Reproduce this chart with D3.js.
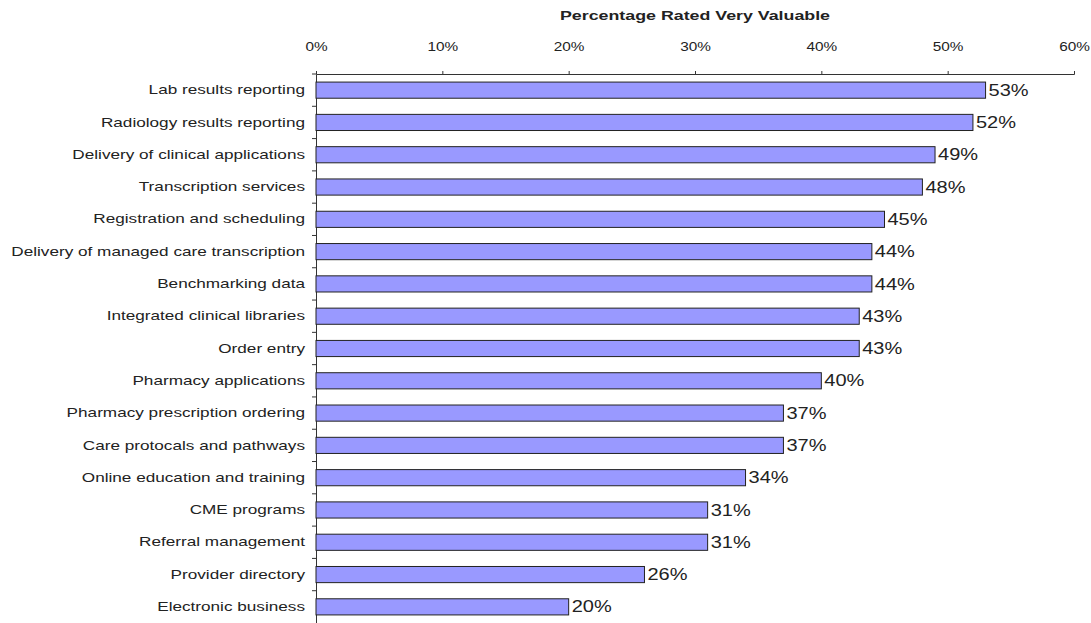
<!DOCTYPE html>
<html><head><meta charset="utf-8">
<script src="https://cdn.jsdelivr.net/npm/d3@7"></script>
<style>body{margin:0;background:#fff}svg{display:block}</style>
</head><body><svg id="c" width="1091" height="623"></svg>
<script>
const categories = ["Lab results reporting","Radiology results reporting","Delivery of clinical applications","Transcription services","Registration and scheduling","Delivery of managed care transcription","Benchmarking data","Integrated clinical libraries","Order entry","Pharmacy applications","Pharmacy prescription ordering","Care protocals and pathways","Online education and training","CME programs","Referral management","Provider directory","Electronic business"];
const values = [53,52,49,48,45,44,44,43,43,40,37,37,34,31,31,26,20];
const tickValues = [0,10,20,30,40,50,60];
const title = "Percentage Rated Very Valuable";

const FONT = "Liberation Sans, Arial, sans-serif";
const svg = d3.select("#c");
const mLeft = 316, mRight = 1074, mTop = 74, mBottom = 623;
const x = d3.scaleLinear().domain([0,60]).range([mLeft,mRight]);
const y = d3.scaleBand().domain(categories).range([mTop,mBottom]).paddingInner(0.5).paddingOuter(0.25);

// horizontal stretch of text (the reference image is wide-set)
function stretch(sel, sx){
  sel.each(function(){
    const t = d3.select(this);
    const xx = +t.attr("x") || 0, yy = +t.attr("y") || 0;
    t.attr("x",0).attr("y",0).attr("transform",`translate(${xx},${yy}) scale(${sx},1)`);
  });
}

const tt = svg.append("text").attr("x",(mLeft+mRight)/2).attr("y",20).attr("text-anchor","middle")
  .attr("font-family",FONT).attr("font-size",13).attr("font-weight","bold")
  .attr("fill","#222").text(title);
stretch(tt, 1.37);

const xa = svg.append("g").attr("transform",`translate(0,${mTop})`)
  .call(d3.axisTop(x).tickValues(tickValues).tickFormat(d=>d+"%").tickSize(3).tickPadding(20));
xa.selectAll("text").attr("font-family",FONT).attr("font-size",12).attr("fill","#222");
stretch(xa.selectAll("text"), 1.28);
xa.selectAll("path,line").attr("stroke","#333");

const yb = d3.scaleBand().domain(categories).range([mTop,mBottom]);
const ya = svg.append("g").attr("transform",`translate(${mLeft},0)`)
  .call(d3.axisLeft(yb).tickSize(0).tickPadding(11));
ya.select("path").attr("stroke","#333");
ya.selectAll("text").attr("font-family",FONT).attr("font-size",13).attr("fill","#222");
stretch(ya.selectAll("text"), 1.32);
svg.append("g").selectAll("line").data(categories).join("line")
  .attr("x1",mLeft-4).attr("x2",mLeft).attr("y1",d=>yb(d)).attr("y2",d=>yb(d)).attr("stroke","#333");

svg.append("g").selectAll("rect").data(values).join("rect")
  .attr("x",x(0)).attr("y",(d,i)=>y(categories[i])).attr("width",d=>x(d)-x(0)).attr("height",y.bandwidth())
  .attr("fill","#9999ff").attr("stroke","#222").attr("stroke-width",1);

const vl = svg.append("g").selectAll("text").data(values).join("text")
  .attr("x",d=>x(d)+3).attr("y",(d,i)=>y(categories[i])+y.bandwidth()/2).attr("dy","0.35em")
  .attr("font-family",FONT).attr("font-size",16).attr("fill","#222")
  .text(d=>d+"%");
stretch(vl, 1.25);
</script></body></html>
